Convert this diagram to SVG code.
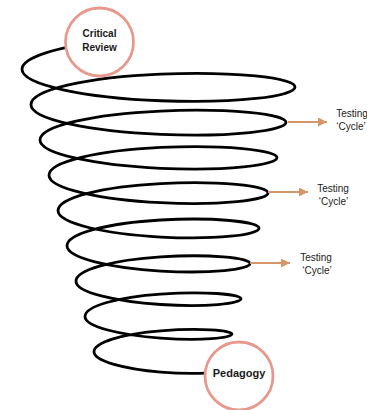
<svg xmlns="http://www.w3.org/2000/svg" width="367" height="410" viewBox="0 0 367 410">
<defs>
<style>
.spiral{fill:none;stroke:#000;stroke-width:2.8;stroke-linecap:round;stroke-linejoin:round}
.node{fill:#fff;stroke:#e8998e;stroke-width:2.8}
.arrow{stroke:#d9956a;stroke-width:2}
.bold{font-family:"Liberation Sans",Arial,sans-serif;font-weight:bold;fill:#1a1a1a;text-anchor:middle}
.lbl{font-family:"Liberation Sans",Arial,sans-serif;font-size:10px;fill:#1a1a1a;text-anchor:middle}
</style>
<marker id="ah" viewBox="0 0 10 10" refX="10" refY="5" markerWidth="4.5" markerHeight="4.5" orient="auto" markerUnits="strokeWidth">
<path d="M0,0 L10,5 L0,10 Z" fill="#d9956a"/>
</marker>
</defs>
<rect width="367" height="410" fill="#fff"/>
<g id="connectors">
<path class="spiral" d="M107,41.2 C55.1,47 22,57.93 22,69.35
C22,84.95 85.36,97.81 160.75,100.75
C236.14,103.69 295,96.32 295,87
C295,77.68 233.65,71.14 160.75,74.08
C87.85,77.02 31,89.95 31,104.65
C31,119.35 90.33,131.39 160.75,134.33
C231.17,137.27 286,130.63 286,122.3
C286,113.97 228.68,108.09 160.75,111.03
C92.82,113.97 40,126.07 40,139.95
C40,153.83 95.3,165.34 160.75,168.28
C226.2,171.22 277,165.26 277,157.6
C277,149.94 223.71,144.49 160.75,147.43
C97.79,150.37 49,161.93 49,175.25
C49,188.57 100.27,199.74 160.75,202.68
C221.23,205.62 268,200.12 268,192.9
C268,185.68 218.74,180.64 160.75,183.58
C102.76,186.52 58,197.72 58,210.55
C58,223.38 105.24,234.09 160.75,237.03
C216.26,239.97 259,234.87 259,228.2
C259,221.53 213.77,217.04 160.75,219.98
C107.73,222.92 67,233.69 67,245.85
C67,258.01 110.21,268.09 160.75,271.03
C211.29,273.97 250,269.4 250,263.5
C250,257.6 208.8,253.89 160.75,256.83
C112.7,259.77 76,269.93 76,281.15
C76,292.37 115.19,301.54 160.75,304.48
C206.31,307.42 241,303.59 241,298.8
C241,294.01 203.83,291.09 160.75,294.03
C117.67,296.97 85,306.22 85,316.45
C85,326.68 120.16,335.14 160.75,338.08
C201.34,341.02 232,338.01 232,334.1
C232,330.19 198.86,327.89 160.75,330.83
C122.64,333.77 94,342.29 94,351.75
C94,361.21 125.13,369.14 160.75,372.08
C196.37,375.02 223,372.65 223,369.4"/>
<line class="arrow" x1="288" y1="122" x2="327" y2="122" marker-end="url(#ah)"/>
<line class="arrow" x1="268" y1="192" x2="308" y2="192" marker-end="url(#ah)"/>
<line class="arrow" x1="250" y1="263" x2="290" y2="263" marker-end="url(#ah)"/>
</g>
<g id="critical-review">
<circle class="node" cx="99.5" cy="42" r="34"/>
<text class="bold" font-size="10" x="99.5" y="36.5">Critical</text>
<text class="bold" font-size="10" x="99.5" y="50.5">Review</text>
</g>
<g id="pedagogy">
<circle class="node" cx="239" cy="376" r="34"/>
<text class="bold" font-size="11" x="239" y="377">Pedagogy</text>
</g>
<g id="testing-1">
<text class="lbl" x="352" y="117">Testing</text>
<text class="lbl" x="351" y="130">‘Cycle’</text>
</g>
<g id="testing-2">
<text class="lbl" x="333" y="192">Testing</text>
<text class="lbl" x="333.5" y="205">‘Cycle’</text>
</g>
<g id="testing-3">
<text class="lbl" x="316" y="261">Testing</text>
<text class="lbl" x="317" y="274">‘Cycle’</text>
</g>
</svg>
